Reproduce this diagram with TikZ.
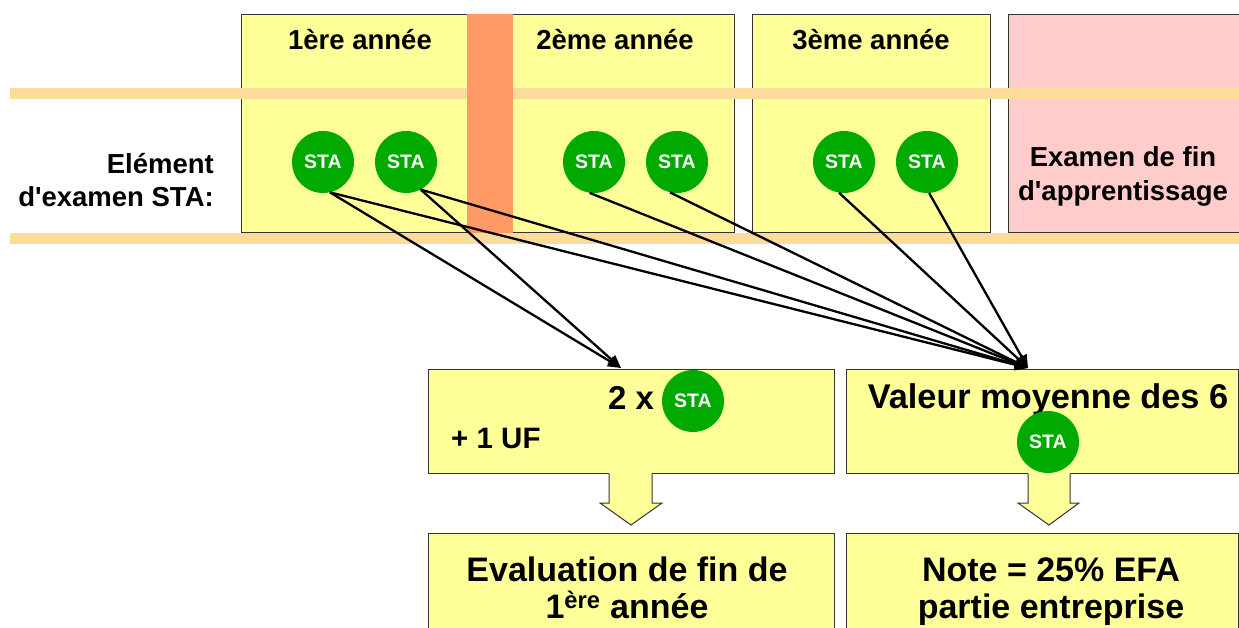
\documentclass[tikz,border=0pt]{standalone}
\usepackage{fontspec}
\newfontfamily\arial{Liberation Sans}
\usetikzlibrary{arrows.meta}
\definecolor{boxyellow}{HTML}{FFFF99}
\definecolor{boxpink}{HTML}{FFCCCC}
\definecolor{band}{HTML}{FCDB9D}
\definecolor{orangebar}{HTML}{FF9966}
\definecolor{stagreen}{HTML}{00AA00}
\definecolor{edge}{HTML}{333333}
\begin{document}
\begin{tikzpicture}[x=1pt,y=-1pt,
  panel/.style={draw=edge,line width=1pt},
  txt/.style={inner sep=0pt,text=black},
  fs/.style={font=\arial\bfseries\fontsize{#1}{#1}\selectfont},
  sta/.style={circle,fill=stagreen,minimum size=62pt,inner sep=0pt,text=white,
    font=\arial\bfseries\fontsize{19.5}{19.5}\selectfont},
  conn/.style={line width=2.3pt,-{Triangle[length=13pt,width=11pt]}},
]
\clip (0,0) rectangle (1239,628);
% top panels
\fill[boxyellow] (241,15) rectangle (734,233);
\draw[panel] (241,15) rectangle (734,233);
\fill[boxyellow] (752,15) rectangle (990,233);
\draw[panel] (752,15) rectangle (990,233);
\fill[boxpink] (1008,15) rectangle (1250,233);
\draw[panel] (1008,15) rectangle (1250,233);
% bands
\fill[band] (10,88) rectangle (1239,99);
\fill[band] (10,233) rectangle (1239,244);
% orange bar
\fill[orangebar] (467,14.5) rectangle (513,233);
% top texts
\node[txt,fs=27.5,anchor=base] (y1) at (360,50) {1ère année};
\node[txt,fs=27.5,anchor=base] (y2) at (615,50) {2ème année};
\node[txt,fs=27.5,anchor=base] (y3) at (871,50) {3ème année};
\node[txt,fs=27.5,anchor=base] (ex1) at (1123,167) {Examen de fin};
\node[txt,fs=27.5,anchor=base] (ex2) at (1123,201) {d'apprentissage};
\node[txt,fs=27.5,anchor=base east] (el1) at (214,174) {Elément};
\node[txt,fs=27.5,anchor=base east] (el2) at (214,207) {d'examen STA:};
% STA circles
\node[sta] (s1) at (323,162) {STA};
\node[sta] (s2) at (406,162) {STA};
\node[sta] (s3) at (594,162) {STA};
\node[sta] (s4) at (677,162) {STA};
\node[sta] (s5) at (844,162) {STA};
\node[sta] (s6) at (927,162) {STA};
% lower panels
\fill[boxyellow] (428,369) rectangle (834,473);
\draw[panel] (428,369) rectangle (834,473);
\fill[boxyellow] (846,369) rectangle (1238,473);
\draw[panel] (846,369) rectangle (1238,473);
\coordinate (tA) at (621,368);
\coordinate (tB) at (1028,368);
% connectors
\draw[conn] (s1.-77) -- (tA);
\draw[conn] (s1.-77) -- (tB);
\draw[conn] (s2.-62) -- (tA);
\draw[conn] (s2.-62) -- (tB);
\draw[conn] (s3.-98) -- (tB);
\draw[conn] (s4.-103) -- (tB);
\draw[conn] (s5.-99) -- (tB);
\draw[conn] (s6.-86) -- (tB);
% block arrows
\fill[boxyellow] (609,471) -- (609,503) -- (600,503) -- (631,525) -- (662,503) -- (652,503) -- (652,471) -- cycle;
\draw[panel,line join=miter] (609,473.5) -- (609,503) -- (600,503) -- (631,525) -- (662,503) -- (652,503) -- (652,473.5);
\fill[boxyellow] (1028,471) -- (1028,503) -- (1018,503) -- (1049,525) -- (1079,503) -- (1070,503) -- (1070,471) -- cycle;
\draw[panel,line join=miter] (1028,473.5) -- (1028,503) -- (1018,503) -- (1049,525) -- (1079,503) -- (1070,503) -- (1070,473.5);
% lower panel contents
\node[txt,fs=33,anchor=base] (twox) at (631,409) {2 x};
\node[sta] (sA) at (693,401) {STA};
\node[txt,fs=29.5,anchor=base west] (uf) at (451,448) {+ 1 UF};
\node[txt,fs=34.3,anchor=base] (val) at (1048,408) {Valeur moyenne des 6};
\node[sta] (sB) at (1048,442) {STA};
% bottom panels
\fill[boxyellow] (428,533) rectangle (834,640);
\draw[panel] (428,533) rectangle (834,640);
\fill[boxyellow] (846,533) rectangle (1238,640);
\draw[panel] (846,533) rectangle (1238,640);
\node[txt,fs=34,anchor=base] (ev1) at (627,581) {Evaluation de fin de};
\node[txt,fs=34,anchor=base] (ev2) at (627,618) {1\textsuperscript{ère} année};
\node[txt,fs=34,anchor=base] (no1) at (1051,581) {Note = 25\% EFA};
\node[txt,fs=34,anchor=base] (no2) at (1051,618) {partie entreprise};
\end{tikzpicture}
\end{document}
